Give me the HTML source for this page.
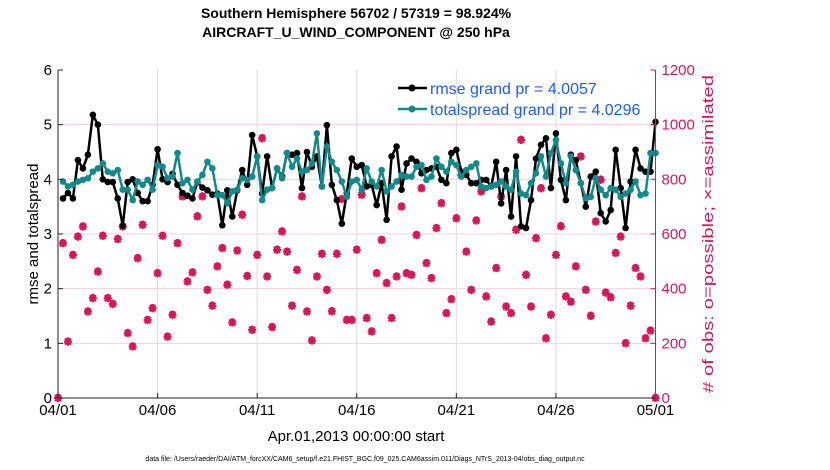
<!DOCTYPE html>
<html><head><meta charset="utf-8"><style>
body{margin:0;background:#fff;}
svg{display:block;font-family:"Liberation Sans",sans-serif;}
</style></head><body>
<svg id="chart" width="830" height="470" viewBox="0 0 830 470" xmlns="http://www.w3.org/2000/svg">
<g id="grid"></g>
<g id="marks"></g>
<g id="axes"></g>
<text x="356" y="18" text-anchor="middle" font-size="14" font-weight="bold">Southern Hemisphere 56702 / 57319 = 98.924%</text>
<text x="356" y="37" text-anchor="middle" font-size="14" font-weight="bold">AIRCRAFT_U_WIND_COMPONENT @ 250 hPa</text>
<text x="356" y="441" text-anchor="middle" font-size="15">Apr.01,2013 00:00:00 start</text>
<text transform="translate(38,234) rotate(-90)" text-anchor="middle" font-size="15">rmse and totalspread</text>
<text transform="translate(713,234) rotate(-90)" text-anchor="middle" font-size="15" fill="#d6165a" textLength="318" lengthAdjust="spacingAndGlyphs"># of obs: o=possible; ×=assimilated</text>
<text x="365" y="461" text-anchor="middle" font-size="7">data file: /Users/raeder/DAI/ATM_forcXX/CAM6_setup/f.e21.FHIST_BGC.f09_025.CAM6assim.011/Diags_NTrS_2013-04/obs_diag_output.nc</text>
<g>
<line x1="398" y1="88" x2="427" y2="88" stroke="#000" stroke-width="2.5"/>
<circle cx="412" cy="88" r="3.5" fill="#000"/>
<text x="430" y="94" font-size="16" fill="#1a5cff">rmse grand pr = 4.0057</text>
<line x1="398" y1="109" x2="427" y2="109" stroke="#138a8a" stroke-width="2.5"/>
<circle cx="412" cy="109" r="3.5" fill="#138a8a"/>
<text x="430" y="115" font-size="16" fill="#1a5cff">totalspread grand pr = 4.0296</text>
</g>
</svg>
<script>
const xTickLabels = ["04/01","04/06","04/11","04/16","04/21","04/26","05/01"];
const xTickDays = [0,5,10,15,20,25,30];
const yLeftTicks = [0,1,2,3,4,5,6];
const yRightTicks = [0,200,400,600,800,1000,1200];
const rmse = [3.65,3.75,3.65,4.35,4.2,4.45,5.18,5.0,4.0,3.95,3.95,3.65,3.15,3.95,4.0,3.75,3.6,3.6,3.9,4.55,4.0,3.95,4.1,3.9,3.75,3.7,3.65,3.95,3.85,3.8,
3.72,3.74,3.16,3.8,3.32,3.8,4.17,3.9,4.81,4.42,3.74,4.42,3.84,4.2,4.05,4.48,4.45,4.48,3.84,4.5,4.23,4.42,3.87,4.99,3.9,3.62,3.19,3.74,4.38,4.23,
4.26,3.87,3.9,3.53,3.93,3.26,4.42,4.6,3.81,4.29,4.38,4.32,4.11,4.17,4.2,4.23,3.99,3.93,4.48,4.54,4.14,4.08,3.93,3.93,3.99,3.99,3.87,4.32,3.56,4.17,
3.32,4.42,3.14,3.11,3.62,4.38,4.63,4.75,3.84,4.84,3.99,3.62,4.45,4.35,3.93,3.5,4.05,4.14,3.38,3.23,3.44,4.54,3.84,3.11,3.96,4.54,4.2,4.14,4.14,5.05];
const spread = [3.96,3.87,3.9,3.96,3.99,4.02,4.14,4.2,4.29,4.14,4.11,4.17,3.81,3.81,3.62,3.96,3.9,3.99,3.81,4.26,4.23,4.02,4.05,4.48,3.93,3.99,3.81,3.96,4.08,4.32,
4.2,3.71,3.71,3.56,3.78,3.81,4.02,3.99,4.05,4.42,3.62,3.81,3.84,4.2,4.02,4.48,4.23,4.38,4.14,4.17,4.29,4.84,3.87,4.6,4.32,4.17,3.96,3.68,3.96,3.99,
3.81,4.2,3.96,3.87,4.17,3.78,3.87,3.96,4.08,4.05,4.05,4.23,4.26,3.99,4.05,4.38,4.23,4.14,4.32,4.26,4.05,4.17,4.23,4.29,3.87,3.84,3.87,3.9,3.96,3.87,
3.81,4.14,3.74,3.71,3.93,4.11,4.42,4.05,4.48,4.72,4.29,3.93,4.42,4.17,3.93,3.65,3.68,4.02,3.81,3.71,3.84,3.81,3.68,3.74,3.81,3.96,3.71,3.74,4.48,4.48];
const obsCount = [0,566,206,523,590,627,316,365,462,593,365,344,581,627,237,188,511,633,285,328,456,593,224,304,566,737,426,459,664,737,395,
337,481,548,414,276,539,670,446,249,523,950,444,259,542,609,535,337,468,737,316,210,444,527,395,317,527,727,285,285,542,
743,292,243,456,578,420,292,444,700,456,450,596,767,493,438,621,712,310,361,657,816,535,395,649,755,371,279,475,737,334,
310,615,944,450,334,584,767,218,304,523,628,371,352,481,883,395,300,645,798,385,368,530,590,200,337,475,444,218,246,0];

const X0=58, X1=655.5, Y0=398, Y1=70;
const xScale = d => X0 + (d/30)*(X1-X0);
const yL = v => Y0 - (v/6)*(Y0-Y1);
const yR = v => Y0 - (v/1200)*(Y0-Y1);
const NS="http://www.w3.org/2000/svg";
const PINK="#d6165a";
function mk(tag, parent){const e=document.createElementNS(NS,tag);parent.appendChild(e);return e;}
const grid=document.getElementById('grid'), marks=document.getElementById('marks'), axes=document.getElementById('axes');

xTickDays.forEach((d,k)=>{
  const g=mk('line',grid);
  
  
  g.setAttribute('x1',xScale(d));g.setAttribute('x2',xScale(d));g.setAttribute('y1',Y1);g.setAttribute('y2',Y0);
  g.setAttribute('stroke','#dcdcdc');g.setAttribute('stroke-width','1');
  const t=mk('text',axes);
  
  
  t.setAttribute('x',xScale(d));t.setAttribute('y',415);t.setAttribute('text-anchor','middle');t.setAttribute('font-size','15');
  t.textContent=xTickLabels[k];
  const tk=mk('line',axes);
  
  
  tk.setAttribute('x1',xScale(d));tk.setAttribute('x2',xScale(d));tk.setAttribute('y1',Y0);tk.setAttribute('y2',Y0-5);tk.setAttribute('stroke','#222');
});
yRightTicks.forEach(v=>{
  if(v>0&&v<1200){
    const g=mk('line',grid);
    
    
    g.setAttribute('x1',X0);g.setAttribute('x2',X1);g.setAttribute('y1',yR(v));g.setAttribute('y2',yR(v));
    g.setAttribute('stroke','#f5d0de');g.setAttribute('stroke-width','1');
  }
  const t=mk('text',axes);
  
  
  t.setAttribute('x',X1+6);t.setAttribute('y',yR(v)+5);t.setAttribute('font-size','15');t.setAttribute('fill',PINK);
  t.textContent=v;
  const tk=mk('line',axes);
  
  
  tk.setAttribute('x1',X1-5);tk.setAttribute('x2',X1);tk.setAttribute('y1',yR(v));tk.setAttribute('y2',yR(v));tk.setAttribute('stroke',PINK);
});
yLeftTicks.forEach(v=>{
  const t=mk('text',axes);
  
  
  t.setAttribute('x',X0-6);t.setAttribute('y',yL(v)+5);t.setAttribute('font-size','15');t.setAttribute('text-anchor','end');
  t.textContent=v;
  const tk=mk('line',axes);
  
  
  tk.setAttribute('x1',X0);tk.setAttribute('x2',X0+5);tk.setAttribute('y1',yL(v));tk.setAttribute('y2',yL(v));tk.setAttribute('stroke','#222');
});
const al=mk('line',axes);


al.setAttribute('x1',X0);al.setAttribute('x2',X0);al.setAttribute('y1',Y1);al.setAttribute('y2',Y0);al.setAttribute('stroke','#222');
const ar=mk('line',axes);


ar.setAttribute('x1',X1);ar.setAttribute('x2',X1);ar.setAttribute('y1',Y1);ar.setAttribute('y2',Y0);ar.setAttribute('stroke',PINK);
const ab=mk('line',axes);


ab.setAttribute('x1',X0);ab.setAttribute('x2',X1);ab.setAttribute('y1',Y0);ab.setAttribute('y2',Y0);ab.setAttribute('stroke','#222');

obsCount.forEach((c,i)=>{
  const x=xScale(i/4), y=yR(c);
  const o=mk('circle',marks);
  
  
  o.setAttribute('cx',x);o.setAttribute('cy',y-1.5);o.setAttribute('r',2.3);o.setAttribute('fill','none');o.setAttribute('stroke',PINK);o.setAttribute('stroke-width','1.3');
  const s=mk('path',marks);
  
  
  s.setAttribute('d',`M${x-4},${y}H${x+4}M${x},${y-4}V${y+4}M${x-3},${y-3}L${x+3},${y+3}M${x-3},${y+3}L${x+3},${y-3}`);
  s.setAttribute('stroke',PINK);s.setAttribute('stroke-width','2.2');
});
function series(vals,color,name){
  const pts=vals.map((v,k)=>[xScale((k+1)/4),yL(v)]);
  const p=mk('polyline',marks);
  
  
  p.setAttribute('points',pts.map(q=>q.join(',')).join(' '));
  p.setAttribute('fill','none');p.setAttribute('stroke',color);p.setAttribute('stroke-width','2.5');p.setAttribute('stroke-linejoin','round');
  pts.forEach(q=>{
    const c=mk('circle',marks);
    
    
    c.setAttribute('cx',q[0]);c.setAttribute('cy',q[1]);c.setAttribute('r',3.3);c.setAttribute('fill',color);
  });
}
series(rmse,'#000','rmse');
series(spread,'#138a8a','totalspread');
</script>
</body></html>
